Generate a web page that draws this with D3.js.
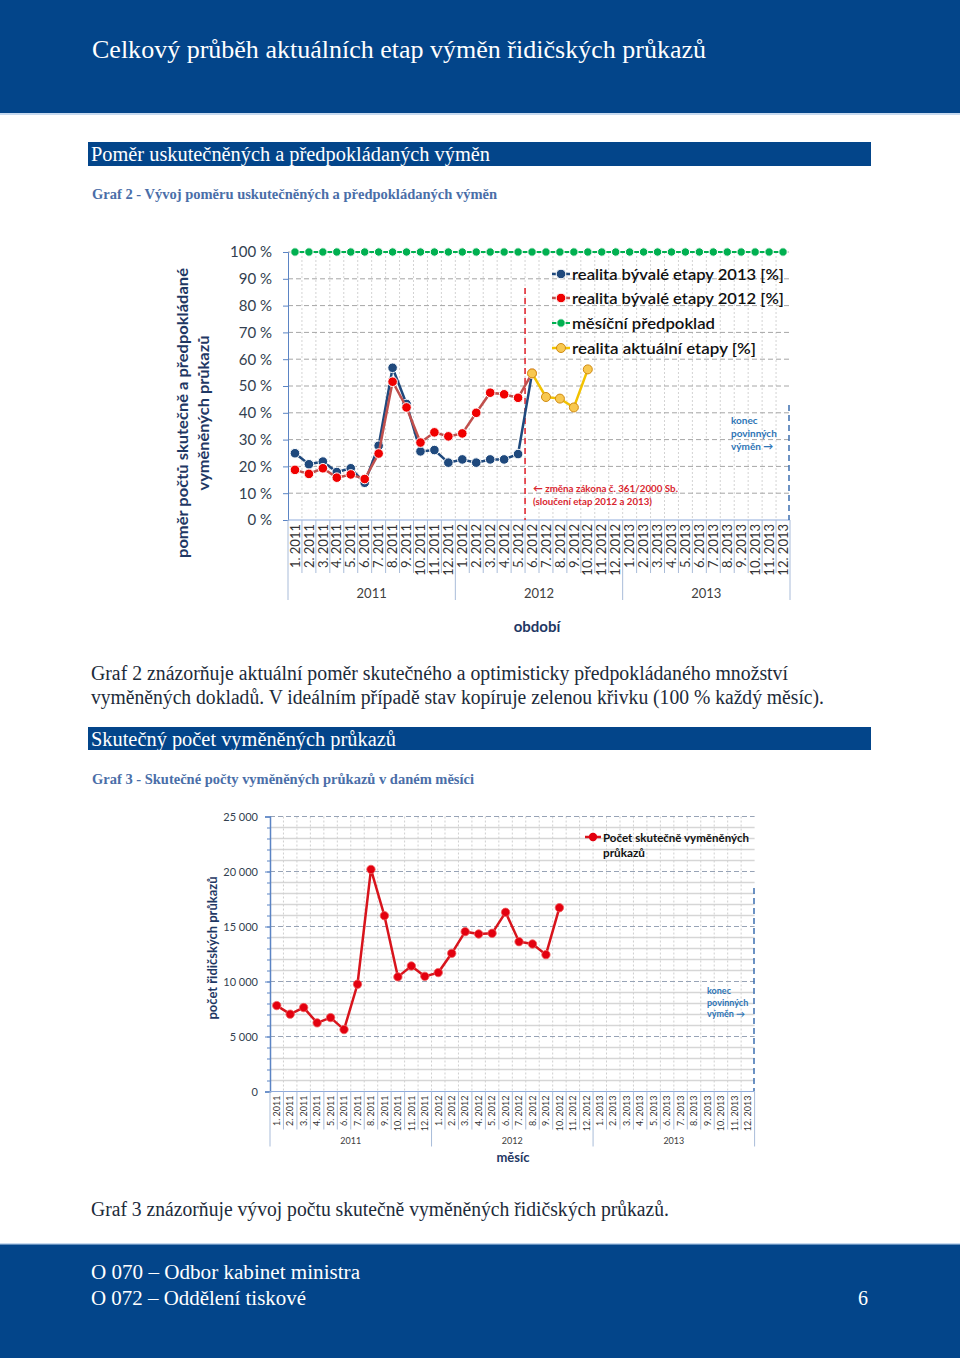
<!DOCTYPE html>
<html>
<head>
<meta charset="utf-8">
<script src="https://cdn.jsdelivr.net/npm/d3@7"></script>
<style>
body { margin: 0; background: #fff; }
svg { display: block; }
</style>
</head>
<body>
<script>
// categories (months) and year groups
const months = [
	"1. 2011", "2. 2011", "3. 2011", "4. 2011", "5. 2011", "6. 2011",
	"7. 2011", "8. 2011", "9. 2011", "10. 2011", "11. 2011", "12. 2011",
	"1. 2012", "2. 2012", "3. 2012", "4. 2012", "5. 2012", "6. 2012",
	"7. 2012", "8. 2012", "9. 2012", "10. 2012", "11. 2012", "12. 2012",
	"1. 2013", "2. 2013", "3. 2013", "4. 2013", "5. 2013", "6. 2013",
	"7. 2013", "8. 2013", "9. 2013", "10. 2013", "11. 2013", "12. 2013",
];
const years = ["2011", "2012", "2013"];

// Graf 2 - ratio series [%]
const pctTicks = [0, 10, 20, 30, 40, 50, 60, 70, 80, 90, 100];
const real2013 = [24.9, 20.8, 21.8, 17.9, 19.3, 13.9, 27.7, 56.8, 43.3, 25.6, 26.1, 21.4,
	22.6, 21.4, 22.6, 22.6, 24.6, 54.7, null, null, null, null, null, null,
	null, null, null, null, null, null, null, null, null, null, null, null];
const real2012 = [18.7, 17.2, 19.3, 15.8, 17.0, 15.3, 24.8, 51.6, 42.0, 28.9, 32.7, 31.2,
	32.3, 40.0, 47.5, 46.9, 45.6, 54.7, null, null, null, null, null, null,
	null, null, null, null, null, null, null, null, null, null, null, null];
const plan = [100, 100, 100, 100, 100, 100, 100, 100, 100, 100, 100, 100,
	100, 100, 100, 100, 100, 100, 100, 100, 100, 100, 100, 100,
	100, 100, 100, 100, 100, 100, 100, 100, 100, 100, 100, 100];
const realNow = [null, null, null, null, null, null, null, null, null, null, null, null,
	null, null, null, null, null, 54.7, 45.9, 45.3, 42.0, 56.2, null, null,
	null, null, null, null, null, null, null, null, null, null, null, null];
const legend1 = [
	"realita bývalé etapy 2013 [%]",
	"realita bývalé etapy 2012 [%]",
	"měsíční předpoklad",
	"realita aktuální etapy [%]",
];

// Graf 3 - counts
const countTicks = [0, 5000, 10000, 15000, 20000, 25000];
const counts = [7810, 7030, 7630, 6240, 6720, 5630, 9750, 20190, 15980, 10420, 11410, 10470,
	10810, 12560, 14530, 14320, 14380, 16290, 13620, 13410, 12440, 16710, null, null,
	null, null, null, null, null, null, null, null, null, null, null, null];

const navy = "#03458a";
const serif = "'Liberation Serif', 'DejaVu Serif', serif";
const sans = "Lato, 'Open Sans', sans-serif";

const svg = d3.select("body").append("svg").attr("width", 960).attr("height", 1358);

// text helper, textLength keeps the widths of the original layout
const text = (g, x, y, s, o = {}) => {
	const t = g.append("text")
		.attr("x", x).attr("y", y)
		.style("font-family", o.font || serif)
		.style("font-size", (o.size || 16) + "px")
		.style("font-weight", o.weight || "normal")
		.style("fill", o.fill || "#222")
		.attr("text-anchor", o.anchor || "start")
		.text(s);
	if (o.len) t.attr("textLength", o.len).attr("lengthAdjust", "spacingAndGlyphs");
	return t;
};

// ---- page frame ----
svg.append("rect").attr("x", 0).attr("y", 0).attr("width", 960).attr("height", 113).attr("fill", navy);
svg.append("rect").attr("x", 0).attr("y", 113).attr("width", 960).attr("height", 2).attr("fill", "#c6d9ef");
text(svg, 92, 58, "Celkový průběh aktuálních etap výměn řidičských průkazů", { size: 26, fill: "#fff", len: 614 });

svg.append("rect").attr("x", 88).attr("y", 142).attr("width", 783).attr("height", 24).attr("fill", navy);
text(svg, 91, 161, "Poměr uskutečněných a předpokládaných výměn", { size: 20, fill: "#fff", len: 399 });
text(svg, 92, 199, "Graf 2 - Vývoj poměru uskutečněných a předpokládaných výměn", { size: 15, weight: "bold", fill: "#4a6ea8", len: 405 });

text(svg, 91, 680, "Graf 2 znázorňuje aktuální poměr skutečného a optimisticky předpokládaného množství", { size: 20, fill: "#1c2b3a", len: 697 });
text(svg, 91, 704, "vyměněných dokladů. V ideálním případě stav kopíruje zelenou křivku (100 % každý měsíc).", { size: 20, fill: "#1c2b3a", len: 733 });

svg.append("rect").attr("x", 88).attr("y", 727).attr("width", 783).attr("height", 23).attr("fill", navy);
text(svg, 91, 746, "Skutečný počet vyměněných průkazů", { size: 20, fill: "#fff", len: 305 });
text(svg, 92, 784, "Graf 3 - Skutečné počty vyměněných průkazů v daném měsíci", { size: 15, weight: "bold", fill: "#4a6ea8", len: 382 });

text(svg, 91, 1216, "Graf 3 znázorňuje vývoj počtu skutečně vyměněných řidičských průkazů.", { size: 20, fill: "#1c2b3a", len: 578 });

svg.append("rect").attr("x", 0).attr("y", 1244).attr("width", 960).attr("height", 114).attr("fill", navy);
svg.append("rect").attr("x", 0).attr("y", 1243).attr("width", 960).attr("height", 1.5).attr("fill", "#c6d9ef");
text(svg, 91, 1279, "O 070 – Odbor kabinet ministra", { size: 20, fill: "#fff", len: 269 });
text(svg, 91, 1305, "O 072 – Oddělení tiskové", { size: 20, fill: "#fff", len: 215 });
text(svg, 858, 1305, "6", { size: 20, fill: "#fff" });

// ---- shared category axis below a plot ----
const drawCategoryAxis = (g, x, y0, sepLen, yearLen, labelSize, yearY, yearSize) => {
	const bw = x.bandwidth();
	const [left, right] = x.range();
	g.append("line").attr("x1", left).attr("x2", right).attr("y1", y0).attr("y2", y0)
		.attr("stroke", "#8eaadb").attr("stroke-width", 1);
	months.forEach((m, i) => {
		const xb = x(m);
		const isYear = i % 12 === 0;
		g.append("line").attr("x1", xb).attr("x2", xb).attr("y1", y0).attr("y2", y0 + (isYear ? yearLen : sepLen))
			.attr("stroke", "#a9bcd9").attr("stroke-width", 1);
		g.append("text")
			.attr("transform", `translate(${xb + bw / 2 + labelSize * 0.36}, ${y0 + 4}) rotate(-90)`)
			.attr("text-anchor", "end")
			.style("font-family", sans).style("font-size", labelSize + "px").style("fill", "#333")
			.text(m);
	});
	g.append("line").attr("x1", right).attr("x2", right).attr("y1", y0).attr("y2", y0 + yearLen)
		.attr("stroke", "#a9bcd9").attr("stroke-width", 1);
	years.forEach((yr, i) => {
		const xa = x(months[i * 12]);
		const xe = i < 2 ? x(months[i * 12 + 12]) : right;
		text(g, (xa + xe) / 2, yearY, yr, { font: sans, size: yearSize, fill: "#404040", anchor: "middle" });
	});
};

// ---- Graf 2 ----
const x1 = d3.scaleBand().domain(months).range([288, 790]);
const y1 = d3.scaleLinear().domain([0, 100]).range([520, 252]);
const bw1 = x1.bandwidth();
const g1 = svg.append("g");

// vertical minor grid
g1.append("g").selectAll("line").data(months.slice(1)).join("line")
	.attr("x1", (d) => x1(d)).attr("x2", (d) => x1(d)).attr("y1", 252).attr("y2", 520)
	.attr("stroke", "#d3d3d3").attr("stroke-dasharray", "2,2");
// horizontal grid
g1.append("g").selectAll("line").data(pctTicks.slice(1)).join("line")
	.attr("x1", 288).attr("x2", 790).attr("y1", (d) => y1(d)).attr("y2", (d) => y1(d))
	.attr("stroke", "#a6a6a6").attr("stroke-dasharray", "5,3");

// y axis
const yAxis1 = g1.append("g").attr("transform", "translate(288,0)")
	.call(d3.axisLeft(y1).tickValues(pctTicks).tickFormat((d) => d + " %").tickSize(5).tickPadding(11));
yAxis1.select(".domain").attr("stroke", "#5b84c4");
yAxis1.selectAll(".tick line").attr("stroke", "#5b84c4");
yAxis1.selectAll("text").style("font-family", sans).style("font-size", "15px").style("fill", "#333f50");

drawCategoryAxis(g1, x1, 520, 53, 80, 13, 598, 13);
text(g1, 537, 632, "období", { font: sans, size: 15, weight: "bold", fill: "#1f3864", anchor: "middle" });

// y title
const yt1 = g1.append("g").attr("transform", "translate(188,413) rotate(-90)");
text(yt1, 0, 0, "poměr počtů skutečně a předpokládané", { font: sans, size: 16, weight: "bold", fill: "#1f3864", anchor: "middle", len: 290 });
text(yt1, 0, 21, "vyměněných průkazů", { font: sans, size: 16, weight: "bold", fill: "#1f3864", anchor: "middle", len: 155 });

// annotations
g1.append("line").attr("x1", x1("6. 2012")).attr("x2", x1("6. 2012")).attr("y1", 288).attr("y2", 520)
	.attr("stroke", "#e0202a").attr("stroke-width", 1.5).attr("stroke-dasharray", "6,4");
text(g1, 533, 492, "← změna zákona č. 361/2000 Sb.", { font: sans, size: 10, weight: "bold", fill: "#d9262f", len: 145 });
text(g1, 533, 505, "(sloučení etap 2012 a 2013)", { font: sans, size: 10, weight: "bold", fill: "#d9262f", len: 119 });
g1.append("line").attr("x1", 789).attr("x2", 789).attr("y1", 405).attr("y2", 520)
	.attr("stroke", "#3d6fb0").attr("stroke-width", 1.5).attr("stroke-dasharray", "6,4");
text(g1, 731, 424, "konec", { font: sans, size: 10, weight: "bold", fill: "#2e75b6" });
text(g1, 731, 437, "povinných", { font: sans, size: 10, weight: "bold", fill: "#2e75b6" });
text(g1, 731, 450, "výměn   →", { font: sans, size: 10, weight: "bold", fill: "#2e75b6" });

const line1 = d3.line().defined((d) => d != null)
	.x((d, i) => x1(months[i]) + bw1 / 2).y((d) => y1(d));

const series1 = [
	{ values: real2013, line: "#1f497d", fill: "#1f497d", stroke: "#fff", w: 2.5, r: 4.8 },
	{ values: real2012, line: "#c0504d", fill: "#f00000", stroke: "#fff", w: 2.5, r: 4.8 },
	{ values: plan, line: "#00b050", fill: "#00b050", stroke: "#fff", w: 2, r: 4.2 },
	{ values: realNow, line: "#f2c200", fill: "#f8c850", stroke: "#d08a10", w: 2.5, r: 4.5 },
];
series1.forEach((s) => {
	g1.append("path").datum(s.values).attr("d", line1)
		.attr("fill", "none").attr("stroke", s.line).attr("stroke-width", s.w);
	g1.append("g").selectAll("circle")
		.data(s.values.map((v, i) => ({ v, i })).filter((d) => d.v != null))
		.join("circle")
		.attr("cx", (d) => x1(months[d.i]) + bw1 / 2).attr("cy", (d) => y1(d.v)).attr("r", s.r)
		.attr("fill", s.fill).attr("stroke", s.stroke).attr("stroke-width", 1);
});

// legend
const legY = [274, 298, 323, 348];
series1.forEach((s, i) => {
	const lg = g1.append("g").attr("transform", `translate(552,${legY[i]})`);
	lg.append("line").attr("x1", 0).attr("x2", 18).attr("stroke", s.line).attr("stroke-width", s.w).attr("stroke-dasharray", "5,8");
	lg.append("circle").attr("cx", 9).attr("r", s.r).attr("fill", s.fill).attr("stroke", s.stroke).attr("stroke-width", 1);
	text(lg, 20, 6, legend1[i], { font: sans, size: 16, weight: 600, fill: "#111", len: [212, 212, 143, 184][i] });
});

// ---- Graf 3 ----
const x2 = d3.scaleBand().domain(months).range([270, 754.6]);
const y2 = d3.scaleLinear().domain([0, 25000]).range([1091.5, 816.5]);
const bw2 = x2.bandwidth();
const g2 = svg.append("g");
const fmt = d3.formatLocale({ decimal: ",", thousands: " ", grouping: [3], currency: ["", ""] }).format(",d");

g2.append("g").selectAll("line").data(d3.range(1000, 25000, 1000).filter((d) => d % 5000 !== 0)).join("line")
	.attr("x1", 270).attr("x2", 754.6).attr("y1", (d) => y2(d)).attr("y2", (d) => y2(d))
	.attr("stroke", "#d6d6d6").attr("stroke-width", 1.6);
g2.append("g").selectAll("line").data(months.slice(1)).join("line")
	.attr("x1", (d) => x2(d)).attr("x2", (d) => x2(d)).attr("y1", 816.5).attr("y2", 1091.5)
	.attr("stroke", "#cfcfcf").attr("stroke-dasharray", "2,2");
g2.append("g").selectAll("line").data(countTicks.slice(1)).join("line")
	.attr("x1", 270).attr("x2", 754.6).attr("y1", (d) => y2(d)).attr("y2", (d) => y2(d))
	.attr("stroke", "#97a3b6").attr("stroke-dasharray", "5,3");

const yAxis2 = g2.append("g").attr("transform", "translate(270,0)")
	.call(d3.axisLeft(y2).tickValues(countTicks).tickFormat(fmt).tickSize(5).tickPadding(7));
yAxis2.select(".domain").attr("stroke", "#5b84c4").attr("stroke-width", 1.5);
yAxis2.selectAll(".tick line").attr("stroke", "#5b84c4");
yAxis2.selectAll("text").style("font-family", sans).style("font-size", "11px").style("fill", "#333f50");
g2.append("g").attr("transform", "translate(270,0)")
	.call(d3.axisLeft(y2).tickValues(d3.range(1000, 25000, 1000)).tickFormat("").tickSize(3))
	.call((a) => a.select(".domain").remove())
	.selectAll("line").attr("stroke", "#5b84c4");

drawCategoryAxis(g2, x2, 1091.5, 38, 55, 9, 1144, 9);
text(g2, 513, 1162, "měsíc", { font: sans, size: 13, weight: "bold", fill: "#1f3864", anchor: "middle" });
const yt2 = g2.append("g").attr("transform", "translate(217,948) rotate(-90)");
text(yt2, 0, 0, "počet řidičských průkazů", { font: sans, size: 13, weight: "bold", fill: "#1f3864", anchor: "middle", len: 143 });

g2.append("line").attr("x1", 754).attr("x2", 754).attr("y1", 888).attr("y2", 1091)
	.attr("stroke", "#3d6fb0").attr("stroke-width", 1.5).attr("stroke-dasharray", "6,4");
text(g2, 707, 994, "konec", { font: sans, size: 9, weight: "bold", fill: "#2e75b6" });
text(g2, 707, 1006, "povinných", { font: sans, size: 9, weight: "bold", fill: "#2e75b6" });
text(g2, 707, 1017, "výměn →", { font: sans, size: 9, weight: "bold", fill: "#2e75b6" });

const line2 = d3.line().defined((d) => d != null)
	.x((d, i) => x2(months[i]) + bw2 / 2).y((d) => y2(d));
g2.append("path").datum(counts).attr("d", line2)
	.attr("fill", "none").attr("stroke", "#d8141c").attr("stroke-width", 2.5);
g2.append("g").selectAll("circle")
	.data(counts.map((v, i) => ({ v, i })).filter((d) => d.v != null))
	.join("circle")
	.attr("cx", (d) => x2(months[d.i]) + bw2 / 2).attr("cy", (d) => y2(d.v)).attr("r", 4.2)
	.attr("fill", "#e3000f").attr("stroke", "#f06060").attr("stroke-width", 0.8);

const lg2 = g2.append("g").attr("transform", "translate(585,837)");
lg2.append("line").attr("x1", 0).attr("x2", 16).attr("stroke", "#d8141c").attr("stroke-width", 2.5).attr("stroke-dasharray", "4,8");
lg2.append("circle").attr("cx", 8).attr("r", 4.2).attr("fill", "#e3000f");
text(lg2, 18, 5, "Počet skutečně vyměněných", { font: sans, size: 12, weight: "bold", fill: "#111", len: 146 });
text(lg2, 18, 20, "průkazů", { font: sans, size: 12, weight: "bold", fill: "#111", len: 42 });
</script>
</body>
</html>
